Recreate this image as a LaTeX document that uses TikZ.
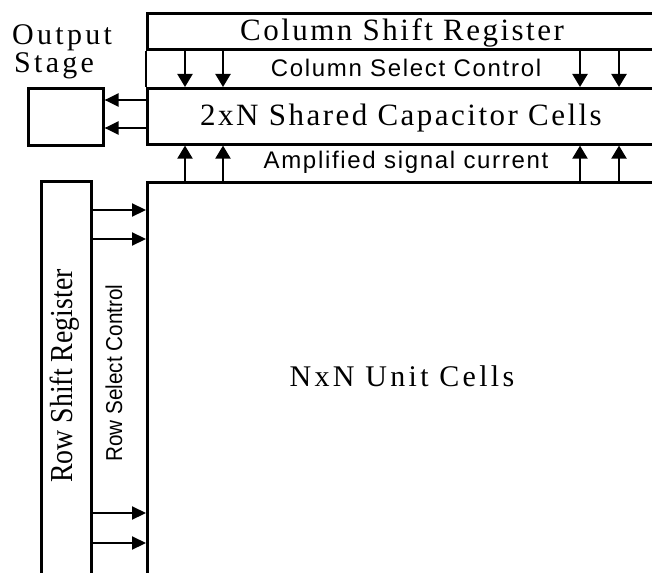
\documentclass[tikz,border=0pt]{standalone}
\usepackage{fontspec}
\setmainfont{Liberation Serif}
\setsansfont{Liberation Sans}
\newfontfamily\serifsp[LetterSpace=8]{Liberation Serif}
\newfontfamily\serifout[LetterSpace=11]{Liberation Serif}
\newfontfamily\serifnx[LetterSpace=11]{Liberation Serif}
\newfontfamily\sanssp[LetterSpace=7]{Liberation Sans}
\usetikzlibrary{arrows.meta,calc}
\tikzset{
  box/.style={draw,line width=2.6pt,rectangle,inner sep=0pt,anchor=north west},
  arr/.style={line width=2.2pt,-{Triangle[length=14pt,width=13pt]}},
  varr/.style={line width=2.2pt,-{Triangle[length=13pt,width=15pt]}},
  bigtxt/.style={inner sep=0pt,anchor=base,font=\serifsp\fontsize{31}{34}\selectfont},
  outtxt/.style={inner sep=0pt,anchor=base west,font=\serifout\fontsize{30}{33}\selectfont},
  smtxt/.style={inner sep=0pt,anchor=base,font=\sanssp\fontsize{24}{27}\selectfont},
}
\begin{document}
\begin{tikzpicture}[x=1pt,y=-1pt]
\useasboundingbox (0,0) rectangle (652,572);
% boxes (right/bottom sides run off the page)
\node[box,minimum width=520pt,minimum height=35.5pt] (col) at (146,12.5) {};
\node[box,minimum width=520pt,minimum height=56pt] (cap) at (146,87) {};
\node[box,minimum width=520pt,minimum height=410pt] (nxn) at (146,181) {};
\node[box,minimum width=50pt,minimum height=410pt] (row) at (40,180) {};
\node[box,minimum width=75pt,minimum height=57pt] (out) at (27,87) {};
\draw[line width=2.6pt] (col.south west) -- (cap.north west);
% texts
\node[bigtxt] (tcol) at (402,41) {Column Shift Register};
\node[smtxt] (tsel) at (406,77) {Column Select Control};
\node[bigtxt] (tcap) at (401,126) {2xN Shared Capacitor Cells};
\node[smtxt] (tamp) at (406,168) {Amplified signal current};
\node[outtxt] (tout) at (12,45) {Output};
\node[outtxt] (tstg) at (14,73) {Stage};
\node[inner sep=0pt,anchor=base,font=\serifnx\fontsize{30}{33}\selectfont] (tnxn) at (402,386) {NxN Unit Cells};
\node[inner sep=0pt,rotate=90,anchor=base,font=\fontsize{32}{35}\selectfont] (trow) at (72,376) {\scalebox{0.87}[1]{Row Shift Register}};
\node[inner sep=0pt,rotate=90,anchor=base,font=\sffamily\fontsize{23}{26}\selectfont] (trsc) at (122,373) {\scalebox{0.9}[1]{Row Select Control}};
% column arrow positions
\coordinate (x1) at (185,0);
\coordinate (x2) at (223,0);
\coordinate (x3) at (580,0);
\coordinate (x4) at (619,0);
\foreach \c in {x1,x2,x3,x4}{
  \draw[varr] (\c |- col.south) -- (\c |- cap.north);
  \draw[varr] (\c |- nxn.north) -- (\c |- cap.south);
}
% output arrows
\coordinate (o1) at (0,100);
\coordinate (o2) at (0,128);
\foreach \c in {o1,o2}{
  \draw[arr] (cap.west |- \c) -- (out.east |- \c);
}
% row arrows
\coordinate (r1) at (0,210);
\coordinate (r2) at (0,239);
\coordinate (r3) at (0,513);
\coordinate (r4) at (0,543);
\foreach \c in {r1,r2,r3,r4}{
  \draw[arr] (row.east |- \c) -- (nxn.west |- \c);
}
\end{tikzpicture}
\end{document}
